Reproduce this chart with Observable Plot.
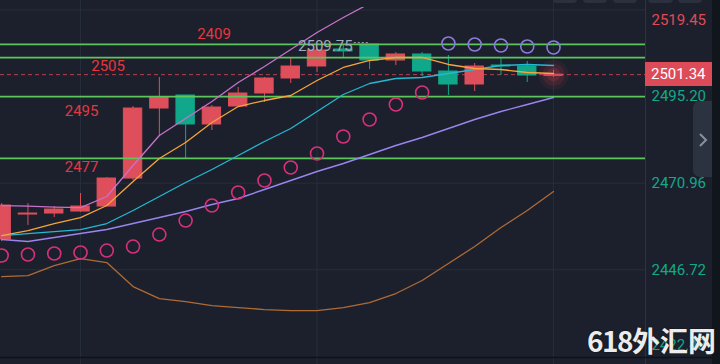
<!DOCTYPE html>
<html><head><meta charset="utf-8">
<script src="https://cdn.jsdelivr.net/npm/d3@7"></script>
<script src="https://cdn.jsdelivr.net/npm/@observablehq/plot@0.6"></script>
<style>
html,body{margin:0;padding:0;background:#1b202c;overflow:hidden}
#wrap{position:relative;width:720px;height:364px;background:#1b202c;font-family:Roboto,"Noto Sans",sans-serif}
#chart svg{display:block}
.tab{position:absolute;top:-7px;height:10px;width:24px;background:#2a303c;border-radius:4px}
#strip{position:absolute;left:712px;top:0;width:8px;height:364px;background:#11151c}
#btn{position:absolute;left:693px;top:101px;width:19px;height:76px;background:#2c3340;border-radius:7px 0 0 7px}
#btn svg{position:absolute;left:5px;top:31px}
#tag{position:absolute;height:24px;width:67px;background:#dd4b59;color:#fff;font-size:15px;line-height:24px;box-sizing:border-box;padding-left:6px;font-family:Roboto,sans-serif}
#wm{position:absolute;left:587px;top:325px;font-family:"Noto Sans CJK SC",sans-serif;font-size:28px;line-height:30px;font-weight:700;color:#ececec;text-shadow:0 0 2px rgba(0,0,0,.6);white-space:nowrap}
#wm .n{letter-spacing:-1.5px}
</style></head>
<body>
<div id="wrap">
  <div id="chart"></div>
  <div class="tab" style="left:553px"></div>
  <div class="tab" style="left:583px"></div>
  <div class="tab" style="left:613px"></div>
  <div class="tab" style="left:648px;width:25px"></div>
  <div class="tab" style="left:678px"></div>
  <div id="strip"></div>
  <div id="btn"><svg width="10" height="16"><polyline points="2,2 8,8 2,14" fill="none" stroke="#8b919c" stroke-width="2"/></svg></div>
  <div id="tag"></div>
  <div id="wm"><span class="n">618</span>外汇网</div>
</div>
<script>
// ---- data ----
const opens  = [2455.19,2462.19,2462.47,2463.03,2464.43,2472.27,2491.86,2495.50,2487.39,2492.42,2496.06,2500.26,2503.62,2508.38,2509.75,2505.30,2506.98,2502.22,2498.58,2503.90,2503.62,2501.00];
const highs  = [2465.27,2465.27,2464.43,2468.07,2472.55,2492.42,2500.54,2495.50,2492.70,2497.74,2500.54,2505.86,2509.22,2509.60,2509.75,2507.54,2507.54,2506.70,2504.46,2506.14,2505.02,2502.50];
const lows   = [2454.63,2459.11,2461.35,2462.75,2464.43,2471.71,2484.03,2477.87,2485.70,2492.14,2493.54,2498.86,2501.94,2506.14,2502.78,2503.90,2500.82,2495.50,2496.62,2501.10,2499.14,2500.54];
const closes = [2464.71,2462.47,2463.59,2464.43,2472.27,2491.86,2494.94,2487.39,2492.14,2496.06,2500.26,2503.62,2508.10,2507.82,2505.30,2506.98,2502.22,2498.58,2503.62,2503.62,2501.10,2501.34];

const ma5  = [2464.71,2464.57,2464.29,2464.15,2467.23,2475.91,2484.30,2489.06,2493.82,2499.14,2503.62,2508.37,2513.13,2517.33,2521.25];
const ma10 = [2456.31,2457.71,2459.67,2461.35,2464.71,2471.43,2477.87,2482.34,2487.94,2492.42,2494.10,2495.50,2499.70,2503.34,2505.30,2506.14,2506.14,2504.18,2503.06,2502.78,2501.94,2501.66];
const ma20 = [2456.31,2456.87,2457.43,2457.99,2459.67,2463.31,2467.23,2471.15,2474.79,2478.71,2482.62,2486.26,2491.02,2495.78,2498.86,2500.26,2500.54,2501.66,2502.78,2503.90,2504.18,2503.90];
const ma60 = [2455.19,2454.63,2455.75,2456.87,2457.99,2459.67,2461.35,2463.03,2464.99,2466.67,2469.19,2471.71,2474.23,2476.47,2478.99,2481.50,2483.74,2486.26,2488.78,2491.02,2492.98,2494.94];
const lowerBand = [2444.84,2445.12,2447.92,2449.88,2448.76,2442.04,2438.68,2437.84,2436.72,2436.16,2435.60,2435.32,2435.32,2436.16,2437.56,2440.08,2443.72,2448.48,2453.23,2458.55,2463.31,2468.63];

const sarBelow = [2450.72,2451.00,2451.28,2451.56,2452.11,2453.23,2456.59,2460.51,2464.71,2468.35,2471.71,2475.35,2479.27,2484.02,2488.78,2492.98,2496.34];
const sarAboveStart = 17;
const sarAbove = [2510.05,2509.77,2509.49,2509.21,2508.93];

const levels      = [2509.8, 2506.1, 2495.2, 2477.9];
const levelLabels = ["2409", "2505", "2495", "2477"];
const levelLabelX = [8.08, 4.05, 3.04, 3.04];
const levelLabelDy = [-10, 9, 15, 9];

const axisTicks = [2495.20, 2470.96, 2446.72];
const axisBottomLabel = 2422.48;
const axisTopLabel = 2519.45;
const gridY = [2519.44, 2495.20, 2470.96, 2446.72];
const gridX = [3, 12, 21];
const lastPrice = 2501.34;

// ---- styles ----
const RED = "#df4e5b", GREEN = "#10a78a";
const xDom = [-0.045, 24.5];
const yDom = [2422.18, 2520.13];

const candles = opens.map((o, i) => ({
  i, open: o, high: highs[i], low: lows[i], close: closes[i],
  color: closes[i] >= o ? RED : GREEN
}));
const series = arr => arr.map((v, i) => ({i, v}));
const last = candles[candles.length - 1];
const hiIdx = d3.maxIndex(highs);
const levelData = levels.map((v, k) => ({v, label: levelLabels[k], x: levelLabelX[k], dy: levelLabelDy[k]}));

const plot = Plot.plot({
  width: 720, height: 364,
  marginLeft: 0, marginRight: 75, marginTop: 7, marginBottom: 7,
  x: {domain: xDom, axis: null},
  y: {domain: yDom, axis: null},
  color: {type: "identity"},
  style: {background: "transparent", fontFamily: "Roboto, sans-serif"},
  marks: [
    Plot.ruleY(gridY, {stroke: "#272e3b", strokeWidth: 1}),
    Plot.ruleX(gridX, {stroke: "#272e3b", insetTop: -7, insetBottom: -7}),
    Plot.ruleX([xDom[1]], {stroke: "#2c3341", insetTop: -7, insetBottom: -7}),
    Plot.ruleY([yDom[0]], {stroke: "#0e1117", strokeWidth: 1.5, insetRight: -67}),
    Plot.ruleY([lastPrice], {stroke: "#b5434f", strokeWidth: 1, strokeDasharray: "4,3"}),
    // candles
    Plot.ruleX(candles, {x: "i", y1: "low", y2: "high", stroke: "color", strokeWidth: 1}),
    Plot.rect(candles, {x1: d => d.i - 0.35, x2: d => d.i + 0.35, y1: "open", y2: "close", fill: "color", stroke: "color", strokeWidth: 1}),
    // glow on the last candle
    Plot.dot([last], {x: "i", y: "close", r: 15, fill: "#e8404f", fillOpacity: 0.08}),
    Plot.dot([last], {x: "i", y: "close", r: 11, fill: "#e8404f", fillOpacity: 0.12}),
    Plot.dot([last], {x: "i", y: "close", r: 7, fill: "#e8404f", fillOpacity: 0.18}),
    // support / resistance levels
    Plot.ruleY(levels, {stroke: "#5cc65c", strokeWidth: 1.6}),
    // moving averages and band
    Plot.line(series(lowerBand), {x: "i", y: "v", stroke: "#b06a35", strokeWidth: 1.3}),
    Plot.line(series(ma60), {x: "i", y: "v", stroke: "#9a84ee", strokeWidth: 1.4}),
    Plot.line(series(ma20), {x: "i", y: "v", stroke: "#25b8d2", strokeWidth: 1.3}),
    Plot.line(series(ma10), {x: "i", y: "v", stroke: "#f5a53b", strokeWidth: 1.3}),
    Plot.line(series(ma5), {x: "i", y: "v", stroke: "#c872c8", strokeWidth: 1.3, clip: true}),
    // parabolic SAR
    Plot.dot(series(sarBelow), {x: "i", y: "v", r: 6.5, stroke: "#d8307a", strokeWidth: 1.6, fill: "none"}),
    Plot.dot(sarAbove.map((v, k) => ({i: sarAboveStart + k, v})), {x: "i", y: "v", r: 6.5, stroke: "#8e78e0", strokeWidth: 1.6, fill: "none"}),
    // high label
    Plot.link([{i: hiIdx, v: highs[hiIdx]}], {x1: d => d.i - 0.6, x2: "i", y1: "v", y2: "v", stroke: "#9aa2b0", strokeWidth: 1, strokeDasharray: "2,2", dy: -2}),
    Plot.text([{i: hiIdx, v: highs[hiIdx]}], {x: "i", y: "v", text: d => d.v.toFixed(2), dx: -17, dy: 2, textAnchor: "end", fill: "#a4abb8", fontSize: 15}),
    // level labels (one mark each so each can have its own offset)
    ...levelData.map(d => Plot.text([d], {x: "x", y: "v", text: "label", dy: d.dy, fill: "#e8363f", fontSize: 15})),
    // right axis labels
    Plot.text(axisTicks, {x: () => xDom[1], y: d => d, text: d => d.toFixed(2), dx: 6, textAnchor: "start", fill: "#14a88a", fontSize: 15}),
    Plot.text([axisBottomLabel], {x: () => xDom[1], y: d => d, text: d => d.toFixed(2), dx: 6, dy: -11, textAnchor: "start", fill: "#14a88a", fontSize: 15}),
    Plot.text([axisTopLabel], {x: () => xDom[1], y: d => d, text: d => d.toFixed(2), dx: 6, dy: 10, textAnchor: "start", fill: "#e04a58", fontSize: 15})
  ]
});
document.getElementById("chart").appendChild(plot);

// current price tag, positioned with Plot's own scales
const ys = plot.scale("y"), xs = plot.scale("x");
const tag = document.getElementById("tag");
tag.style.left = xs.apply(xDom[1]) + "px";
tag.style.top = (ys.apply(lastPrice) - 12) + "px";
tag.textContent = lastPrice.toFixed(2);
</script>
</body></html>
